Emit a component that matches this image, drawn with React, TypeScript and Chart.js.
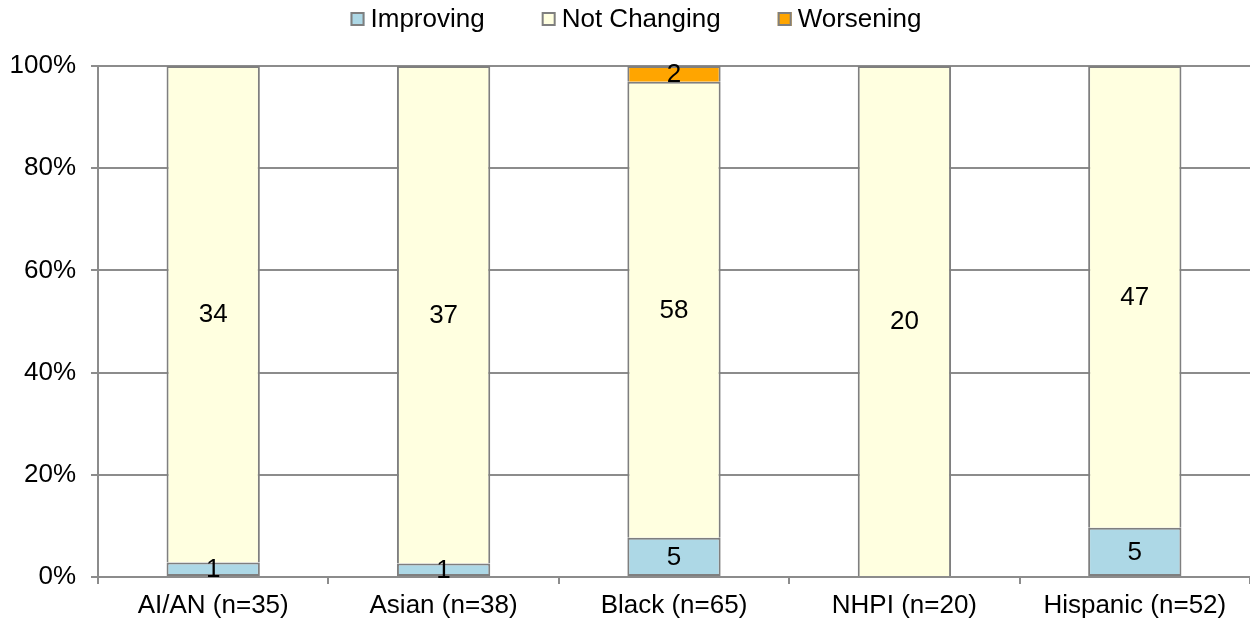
import React, { useEffect, useRef } from "react";
import { Chart, registerables } from "chart.js";

Chart.register(...registerables);

const categories = ["AI/AN (n=35)", "Asian (n=38)", "Black (n=65)", "NHPI (n=20)", "Hispanic (n=52)"];
const improving = [1, 1, 5, 0, 5];
const notChanging = [34, 37, 58, 20, 47];
const worsening = [0, 0, 2, 0, 0];
const yTicks = [0, 20, 40, 60, 80, 100];

const FONT = "'Liberation Sans', Arial, sans-serif";
const FS = 26;

const totals = categories.map((_, i) => improving[i] + notChanging[i] + worsening[i]);
const pct = (arr: number[]) => arr.map((v, i) => (v / totals[i]) * 100);

const labelPlugin = {
  id: "countLabels",
  afterDatasetsDraw(chart: any) {
    const ctx = chart.ctx;
    ctx.save();
    ctx.font = `${FS}px ${FONT}`;
    ctx.fillStyle = "#000";
    ctx.textAlign = "center";
    ctx.textBaseline = "middle";
    chart.data.datasets.forEach((ds: any, di: number) => {
      const meta = chart.getDatasetMeta(di);
      meta.data.forEach((bar: any, i: number) => {
        const count = ds.counts[i];
        if (!count) return;
        const y = (bar.y + bar.base) / 2;
        ctx.fillText(String(count), bar.x, y + 1);
      });
    });
    ctx.restore();
  },
};

const legendPlugin = {
  id: "customLegend",
  afterDraw(chart: any) {
    const ctx = chart.ctx;
    ctx.save();
    ctx.font = `${FS}px ${FONT}`;
    const box = 14;
    const gapText = 6;
    const gapItem = 57;
    const items = chart.data.datasets.map((ds: any) => ({
      text: ds.label,
      color: ds.backgroundColor,
      w: box + gapText + ctx.measureText(ds.label).width,
    }));
    const total = items.reduce((s: number, it: any) => s + it.w, 0) + gapItem * (items.length - 1);
    let x = 636 - total / 2;
    const cy = 19;
    items.forEach((it: any) => {
      ctx.fillStyle = it.color;
      ctx.fillRect(x, cy - box / 2, box, box);
      ctx.strokeStyle = "#7f7f7f";
      ctx.lineWidth = 2;
      ctx.strokeRect(x + 1, cy - box / 2 + 1, box - 2, box - 2);
      ctx.fillStyle = "#000";
      ctx.textAlign = "left";
      ctx.textBaseline = "middle";
      ctx.fillText(it.text, x + box + gapText, cy + 1);
      x += it.w + gapItem;
    });
    ctx.restore();
  },
};

export default function App() {
  const ref = useRef<HTMLCanvasElement>(null);
  useEffect(() => {
    const mk = (label: string, counts: number[], color: string, first: boolean) => ({
      label,
      data: pct(counts),
      counts,
      backgroundColor: color,
      borderColor: "#7f7f7f",
      borderWidth: first ? 2 : { top: 2, left: 2, right: 2, bottom: 0 },
      borderSkipped: false,
      categoryPercentage: 1,
      barPercentage: 0.405,
    });
    const chart = new Chart(ref.current!, {
      type: "bar",
      data: {
        labels: categories,
        datasets: [
          mk("Improving", improving, "#ADD8E6", true),
          mk("Not Changing", notChanging, "#FFFFE0", false),
          mk("Worsening", worsening, "#FFA500", false),
        ] as any,
      },
      options: {
        animation: false,
        responsive: false,
        maintainAspectRatio: false,
        layout: { padding: { left: 0, right: 0, top: 66, bottom: 0 } },
        plugins: {
          legend: { display: false },
          tooltip: { enabled: false },
        },
        scales: {
          x: {
            stacked: true,
            afterFit: (axis: any) => {
              axis.height = 49;
            },
            grid: {
              display: true,
              drawOnChartArea: false,
              drawTicks: true,
              tickLength: 7,
              color: "#8c8c8c",
              lineWidth: 2,
              offset: true,
            },
            border: { display: true, color: "#8c8c8c", width: 2 },
            ticks: { font: { size: FS, family: FONT }, color: "#000", padding: 6, maxRotation: 0 },
          },
          y: {
            stacked: true,
            min: 0,
            max: 100,
            afterFit: (axis: any) => {
              axis.width = 98;
            },
            afterBuildTicks: (axis: any) => {
              axis.ticks = yTicks.map((v) => ({ value: v }));
            },
            grid: { color: "#8c8c8c", lineWidth: 2, tickLength: 7 },
            border: { display: true, color: "#8c8c8c", width: 2 },
            ticks: {
              font: { size: FS, family: FONT },
              color: "#000",
              padding: 15,
              callback: (v: any) => `${v}%`,
            },
          },
        },
      },
      plugins: [labelPlugin, legendPlugin],
    } as any);
    return () => chart.destroy();
  }, []);
  return (
    <div style={{ position: "fixed", left: 0, top: 0, width: 1250, height: 626, background: "#fff" }}>
      <canvas ref={ref} width={1250} height={626} style={{ width: 1250, height: 626 }} />
    </div>
  );
}
